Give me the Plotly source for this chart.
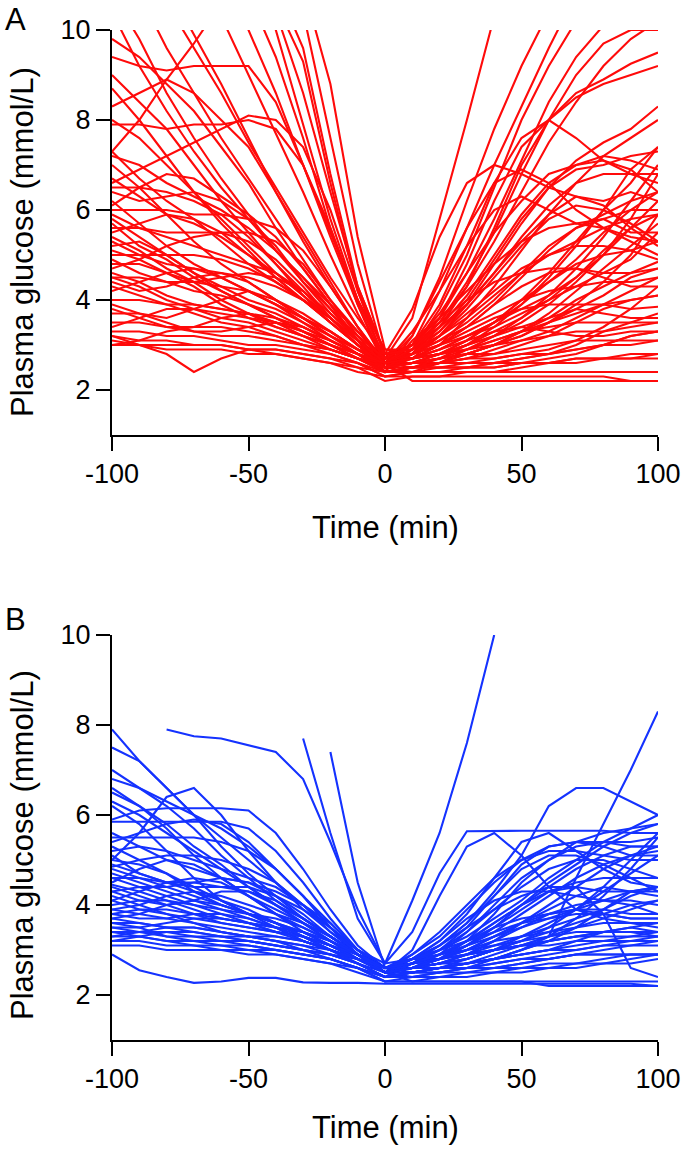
import plotly.graph_objects as go

TIME = list(range(-100, 101, 10))
TICKS_X = [-100, -50, 0, 50, 100]
TICK_TEXT_X = ["-100", "-50", "0", "50", "100"]
TICKS_Y = [2, 4, 6, 8, 10]
RED = "#ff0a0a"
BLUE = "#1432ff"

# Panel A: values at t = -100 ... 0 (11 samples)
A_PRE = [
    [10.4, 9.2, 8.2, 7.3, 6.5, 5.8, 5.1, 4.5, 3.9, 3.3, 2.7],
    [12.0, 10.8, 9.6, 8.6, 7.6, 6.7, 5.8, 4.9, 4.0, 3.3, 2.6],
    [13.5, 12.3, 11.0, 9.9, 8.8, 7.6, 6.4, 5.3, 4.3, 3.4, 2.5],
    [7.3, 8.0, 8.9, 9.7, 10.6, 11.0, 10.4, 8.6, 6.4, 4.3, 2.8],
    [14, 13, 12, 11, 10.3, 9.0, 7.7, 6.4, 5.0, 3.7, 2.6],
    [15, 14, 13, 12, 11, 10.0, 8.6, 7.0, 5.5, 4.0, 2.9],
    [16, 15, 14, 13, 12, 10.8, 9.4, 7.6, 5.6, 3.9, 2.5],
    [16, 15, 14, 13, 12, 11.2, 10.0, 7.9, 5.8, 4.0, 2.7],
    [17, 16, 15, 14, 13, 12, 10.6, 9.3, 6.6, 4.2, 2.6],
    [17, 16, 15, 14, 13, 12, 11, 9.6, 6.8, 4.3, 2.8],
    [18, 17, 16, 15, 14, 13, 12, 10.4, 7.6, 4.8, 2.7],
    [18, 17, 16, 15, 14, 13, 12, 11, 8.8, 5.4, 2.9],
    [9.8, 9.4, 8.8, 8.2, 7.4, 6.6, 5.6, 4.7, 3.9, 3.1, 2.4],
    [9.4, 9.2, 9.1, 9.2, 9.2, 9.2, 8.4, 7.0, 5.4, 3.9, 2.6],
    [8.7, 8.0, 7.2, 6.4, 5.7, 5.1, 4.5, 4.0, 3.5, 3.0, 2.5],
    [8.3, 8.6, 8.9, 8.6, 8.0, 7.4, 6.4, 5.4, 4.4, 3.4, 2.6],
    [7.9, 7.9, 7.8, 7.9, 7.9, 8.0, 7.8, 7.0, 5.6, 4.0, 2.7],
    [6.6, 6.9, 7.2, 7.5, 7.8, 8.1, 8.0, 7.4, 6.0, 4.2, 2.8],
    [7.3, 6.7, 6.2, 5.8, 5.3, 4.8, 4.4, 4.0, 3.6, 3.1, 2.5],
    [7.2, 7.0, 6.6, 6.3, 6.0, 5.6, 5.1, 4.5, 3.8, 3.1, 2.4],
    [6.7, 6.3, 5.9, 5.7, 5.4, 5.0, 4.6, 4.1, 3.6, 3.1, 2.6],
    [6.4, 6.2, 6.3, 6.4, 6.2, 5.8, 5.2, 4.4, 3.7, 3.1, 2.7],
    [6.2, 5.7, 5.2, 4.8, 4.5, 4.2, 3.9, 3.6, 3.3, 2.9, 2.5],
    [6.0, 6.0, 6.0, 5.9, 5.9, 5.8, 5.6, 5.1, 4.3, 3.4, 2.6],
    [5.9, 5.6, 5.5, 5.5, 5.5, 5.5, 5.3, 4.8, 4.0, 3.2, 2.5],
    [5.8, 5.4, 5.0, 4.6, 4.3, 4.0, 3.8, 3.5, 3.2, 2.9, 2.6],
    [5.6, 5.6, 5.4, 5.2, 5.0, 4.8, 4.6, 4.2, 3.7, 3.2, 2.7],
    [5.5, 5.7, 5.9, 5.8, 5.5, 5.0, 4.5, 4.0, 3.5, 3.0, 2.5],
    [5.3, 5.0, 4.8, 4.7, 4.6, 4.5, 4.3, 4.0, 3.6, 3.1, 2.6],
    [5.2, 5.3, 5.0, 4.6, 4.2, 3.9, 3.6, 3.3, 3.0, 2.7, 2.4],
    [5.0, 5.0, 5.0, 5.0, 4.9, 4.7, 4.4, 4.0, 3.5, 3.0, 2.5],
    [4.9, 4.6, 4.4, 4.2, 4.1, 3.9, 3.7, 3.4, 3.1, 2.8, 2.5],
    [4.7, 4.9, 5.2, 5.4, 5.5, 5.3, 4.9, 4.3, 3.6, 3.0, 2.6],
    [4.6, 4.4, 4.1, 3.9, 3.8, 3.7, 3.5, 3.3, 3.1, 2.8, 2.4],
    [4.5, 4.5, 4.4, 4.4, 4.3, 4.2, 4.0, 3.7, 3.3, 2.9, 2.6],
    [4.4, 4.2, 4.3, 4.5, 4.6, 4.4, 4.0, 3.6, 3.2, 2.9, 2.7],
    [4.3, 4.1, 3.9, 3.7, 3.5, 3.4, 3.2, 3.0, 2.9, 2.7, 2.5],
    [4.0, 4.0, 3.9, 3.9, 3.8, 3.7, 3.6, 3.4, 3.1, 2.8, 2.5],
    [3.9, 3.7, 3.6, 3.8, 4.0, 4.2, 3.9, 3.5, 3.1, 2.8, 2.6],
    [3.7, 3.7, 3.5, 3.3, 3.2, 3.2, 3.1, 3.0, 2.9, 2.7, 2.4],
    [3.5, 3.5, 3.4, 3.4, 3.4, 3.3, 3.2, 3.0, 2.8, 2.6, 2.3],
    [3.2, 3.0, 2.8, 2.4, 2.7, 2.9, 2.9, 2.8, 2.7, 2.6, 2.4],
    [3.3, 3.3, 3.2, 3.2, 3.1, 3.0, 3.0, 2.9, 2.8, 2.6, 2.3],
    [3.2, 3.1, 3.1, 3.0, 3.0, 2.9, 2.9, 2.8, 2.7, 2.5, 2.2],
    [3.0, 3.0, 3.0, 3.0, 3.0, 2.9, 2.8, 2.7, 2.6, 2.4, 2.3],
    [3.0, 3.1, 3.3, 3.4, 3.6, 3.7, 3.5, 3.2, 2.9, 2.7, 2.5],
    [8.0, 7.6, 7.0, 6.4, 5.8, 5.2, 4.6, 4.1, 3.6, 3.1, 2.6],
    [6.1, 6.5, 6.8, 6.7, 6.3, 5.9, 5.4, 4.7, 3.9, 3.1, 2.4],
    [5.1, 4.9, 4.6, 4.3, 3.9, 3.6, 3.4, 3.2, 3.0, 2.8, 2.6],
    [4.8, 4.8, 4.6, 4.4, 4.5, 4.6, 4.5, 4.2, 3.6, 3.0, 2.5],
    [4.2, 4.4, 4.6, 4.7, 4.5, 4.2, 3.9, 3.6, 3.2, 2.8, 2.4],
    [3.8, 3.6, 3.4, 3.3, 3.3, 3.4, 3.5, 3.4, 3.1, 2.8, 2.5],
    [7.0, 6.5, 5.9, 5.3, 4.8, 4.4, 4.0, 3.6, 3.3, 2.9, 2.6],
    [9.0, 8.4, 7.8, 7.0, 6.2, 5.5, 4.8, 4.2, 3.6, 3.1, 2.6],
    [5.7, 5.2, 4.9, 4.5, 4.2, 3.9, 3.6, 3.3, 3.0, 2.7, 2.4],
    [6.5, 6.5, 6.4, 6.2, 5.9, 5.4, 4.8, 4.1, 3.5, 3.0, 2.5],
    [4.5, 4.3, 4.0, 3.8, 3.6, 3.5, 3.3, 3.1, 2.9, 2.7, 2.6],
    [3.4, 3.6, 3.8, 3.8, 3.7, 3.6, 3.5, 3.3, 3.0, 2.8, 2.6],
    [3.1, 3.0, 2.9, 2.9, 2.9, 2.8, 2.8, 2.7, 2.6, 2.5, 2.4],
    [10.8, 9.8, 8.6, 7.6, 6.7, 5.9, 5.1, 4.4, 3.8, 3.2, 2.7],
    [12.5, 11.6, 10.6, 9.6, 8.6, 7.5, 6.5, 5.5, 4.5, 3.6, 2.8],
    [5.4, 5.1, 4.7, 4.4, 4.0, 3.7, 3.4, 3.2, 3.0, 2.7, 2.5],
]

# Panel A: values at t = 10 ... 100 (10 samples)
A_POST = [
    [3.6, 5.8, 8.0, 10.3, 12.5, 14, 15, 16, 17, 18],
    [3.2, 4.5, 6.2, 7.8, 9.2, 10.4, 11.5, 12.5, 13, 13.5],
    [2.9, 3.8, 5.0, 6.5, 8.0, 9.2, 10.2, 11, 12, 12.5],
    [3.0, 3.6, 4.6, 5.8, 7.1, 8.4, 9.4, 10.1, 11, 11.5],
    [2.9, 3.5, 4.4, 5.5, 6.8, 8.0, 9.0, 9.7, 10.0, 10.0],
    [2.8, 3.4, 4.3, 5.6, 7.0, 8.0, 8.6, 8.9, 9.25, 9.5],
    [2.8, 3.6, 4.8, 6.2, 7.4, 8.0, 8.5, 8.8, 9.0, 9.2],
    [2.7, 3.2, 3.9, 4.8, 5.7, 6.5, 7.1, 7.5, 7.8, 8.3],
    [2.7, 3.0, 3.6, 4.3, 5.1, 5.9, 6.6, 7.2, 7.6, 8.0],
    [3.8, 5.4, 6.6, 7.0, 6.8, 6.5, 6.3, 6.2, 6.4, 6.2],
    [3.0, 3.7, 4.6, 5.5, 6.2, 6.8, 7.0, 7.2, 7.1, 6.9],
    [2.9, 3.3, 3.9, 4.6, 5.4, 6.1, 6.6, 6.8, 6.8, 6.8],
    [3.2, 4.4, 5.6, 6.6, 6.9, 6.6, 6.0, 5.6, 5.3, 5.0],
    [2.6, 2.8, 3.1, 3.5, 4.0, 4.6, 5.3, 6.0, 6.6, 7.4],
    [2.4, 2.4, 2.4, 2.4, 2.4, 2.4, 2.4, 2.4, 2.4, 2.4],
    [2.2, 2.2, 2.2, 2.2, 2.2, 2.2, 2.2, 2.2, 2.2, 2.2],
    [2.8, 3.0, 3.2, 3.4, 3.7, 4.0, 4.3, 4.6, 4.9, 5.5],
    [2.7, 2.8, 2.9, 3.0, 3.1, 3.2, 3.3, 3.3, 3.4, 3.5],
    [2.6, 2.7, 2.8, 2.8, 2.9, 3.0, 3.1, 3.1, 3.1, 3.1],
    [3.1, 3.6, 4.2, 4.8, 5.3, 5.6, 5.7, 5.6, 5.4, 5.3],
    [2.9, 3.2, 3.6, 4.1, 4.6, 5.0, 5.3, 5.6, 5.8, 5.9],
    [2.7, 2.9, 3.2, 3.5, 3.9, 4.4, 4.9, 5.5, 6.0, 6.4],
    [2.6, 2.7, 2.8, 3.0, 3.3, 3.6, 4.0, 4.3, 4.6, 4.85],
    [3.0, 3.5, 4.0, 4.4, 4.6, 4.7, 4.7, 4.6, 4.6, 4.7],
    [2.8, 3.1, 3.4, 3.7, 4.0, 4.2, 4.3, 4.4, 4.4, 4.5],
    [2.5, 2.6, 2.7, 2.7, 2.8, 2.9, 3.1, 3.4, 3.8, 4.3],
    [3.0, 3.4, 3.9, 4.6, 5.3, 5.9, 6.3, 6.1, 5.6, 5.2],
    [2.6, 2.6, 2.7, 2.8, 3.0, 3.2, 3.5, 3.8, 4.0, 4.1],
    [2.8, 3.0, 3.3, 3.6, 3.8, 3.9, 3.9, 3.9, 3.8, 3.85],
    [2.5, 2.5, 2.6, 2.6, 2.7, 2.8, 3.0, 3.3, 3.5, 3.7],
    [2.7, 2.9, 3.2, 3.5, 3.8, 4.1, 4.5, 5.0, 5.6, 6.2],
    [2.6, 2.7, 2.9, 3.1, 3.3, 3.4, 3.5, 3.5, 3.5, 3.5],
    [3.3, 4.2, 5.2, 6.0, 6.3, 6.0, 5.7, 5.8, 6.0, 6.0],
    [2.4, 2.4, 2.5, 2.5, 2.6, 2.7, 2.8, 3.0, 3.2, 3.3],
    [2.7, 2.8, 3.0, 3.2, 3.5, 3.9, 4.4, 5.0, 5.8, 6.8],
    [2.8, 3.1, 3.5, 4.0, 4.6, 5.2, 5.6, 5.8, 5.5, 5.5],
    [2.5, 2.5, 2.5, 2.5, 2.6, 2.6, 2.7, 2.7, 2.8, 2.8],
    [2.6, 2.8, 3.0, 3.3, 3.6, 4.0, 4.5, 5.1, 5.6, 5.9],
    [2.7, 3.0, 3.4, 3.9, 4.5, 5.1, 5.6, 5.9, 6.2, 6.4],
    [2.5, 2.6, 2.6, 2.7, 2.8, 2.8, 2.9, 3.0, 3.0, 3.1],
    [2.3, 2.3, 2.4, 2.4, 2.5, 2.6, 2.6, 2.7, 2.7, 2.8],
    [2.5, 2.6, 2.8, 3.0, 3.3, 3.7, 4.2, 4.7, 5.2, 5.7],
    [2.4, 2.5, 2.5, 2.6, 2.7, 2.8, 2.9, 3.0, 3.2, 3.3],
    [2.3, 2.3, 2.3, 2.3, 2.3, 2.3, 2.3, 2.3, 2.2, 2.2],
    [2.4, 2.6, 2.9, 3.2, 3.6, 4.1, 4.7, 5.4, 6.2, 7.0],
    [2.8, 3.2, 3.7, 4.2, 4.7, 5.0, 5.2, 5.2, 5.1, 4.9],
    [2.8, 3.2, 3.8, 4.5, 5.2, 5.8, 6.1, 6.0, 5.7, 5.3],
    [2.5, 2.7, 3.0, 3.4, 3.9, 4.5, 5.2, 6.0, 6.9, 7.4],
    [2.7, 2.8, 2.9, 3.1, 3.3, 3.5, 3.7, 3.9, 4.0, 4.1],
    [2.6, 2.8, 3.1, 3.5, 4.0, 4.4, 4.8, 5.0, 5.1, 5.3],
    [2.5, 2.6, 2.8, 3.0, 3.2, 3.5, 3.8, 4.1, 4.5, 4.7],
    [2.7, 3.0, 3.4, 3.9, 4.3, 4.6, 4.7, 4.5, 4.3, 4.3],
    [2.9, 3.4, 4.1, 5.0, 5.9, 6.6, 7.0, 7.1, 6.9, 6.4],
    [3.0, 3.9, 5.2, 6.6, 7.6, 8.0, 7.6, 7.1, 6.8, 6.6],
    [2.5, 2.6, 2.7, 2.9, 3.1, 3.3, 3.6, 3.9, 4.2, 4.5],
    [2.8, 3.3, 4.0, 4.9, 5.8, 6.5, 6.9, 7.0, 7.2, 7.3],
    [2.7, 2.8, 3.0, 3.2, 3.4, 3.6, 3.8, 3.7, 3.6, 3.6],
    [2.7, 2.9, 3.1, 3.3, 3.4, 3.3, 3.2, 3.2, 3.3, 3.3],
    [2.5, 2.5, 2.5, 2.6, 2.6, 2.6, 2.7, 2.7, 2.7, 2.7],
    [3.0, 4.2, 5.6, 7.0, 8.3, 9.6, 10.8, 12, 13, 14],
    [2.9, 3.5, 4.3, 5.3, 6.4, 7.5, 8.4, 9.2, 9.8, 10.2],
    [2.6, 2.7, 2.8, 3.0, 3.2, 3.5, 3.9, 4.4, 5.0, 5.9],
]

N = None
# Panel B: values at t = -100 ... 0 (11 samples)
B_PRE = [
    [N, N, N, N, N, N, N, 7.7, 5.6, 3.7, 2.7],
    [7.9, 7.2, 6.6, 6.0, 5.3, 4.7, 4.2, 3.7, 3.3, 2.9, 2.5],
    [7.5, 7.2, 6.6, 6.0, 5.5, 5.0, 4.5, 4.0, 3.5, 3.0, 2.6],
    [N, N, 7.9, 7.75, 7.7, 7.55, 7.4, 6.8, 5.4, 3.9, 2.7],
    [N, N, N, N, N, N, N, N, 7.4, 4.5, 2.6],
    [7.0, 6.6, 6.3, 6.0, 5.7, 5.3, 4.8, 4.2, 3.6, 3.0, 2.5],
    [6.8, 6.6, 6.2, 5.7, 5.1, 4.6, 4.1, 3.7, 3.3, 2.9, 2.5],
    [6.5, 6.2, 5.8, 5.3, 4.9, 4.4, 4.0, 3.6, 3.2, 2.9, 2.5],
    [5.9, 6.1, 6.15, 6.15, 6.15, 6.1, 5.6, 4.8, 3.9, 3.1, 2.6],
    [5.0, 5.6, 6.4, 6.6, 6.0, 5.2, 4.5, 3.9, 3.4, 3.0, 2.6],
    [6.3, 6.0, 5.6, 5.2, 4.8, 4.4, 4.0, 3.6, 3.2, 2.8, 2.5],
    [6.2, 5.8, 5.2, 4.6, 4.1, 3.8, 3.5, 3.2, 3.0, 2.8, 2.5],
    [5.85, 5.85, 5.85, 5.85, 5.85, 5.7, 5.2, 4.5, 3.7, 3.0, 2.6],
    [5.4, 5.6, 5.8, 5.9, 5.8, 5.4, 4.8, 4.2, 3.5, 2.9, 2.5],
    [5.3, 5.0, 4.7, 4.3, 4.0, 3.8, 3.6, 3.4, 3.1, 2.8, 2.5],
    [5.2, 5.3, 5.2, 5.0, 4.8, 4.6, 4.4, 4.0, 3.5, 3.0, 2.6],
    [5.0, 4.9, 4.7, 4.4, 4.1, 3.8, 3.6, 3.3, 3.0, 2.8, 2.5],
    [4.85, 5.0, 5.1, 5.1, 5.0, 4.8, 4.5, 4.0, 3.4, 2.9, 2.5],
    [4.7, 4.5, 4.3, 4.1, 3.9, 3.7, 3.5, 3.2, 3.0, 2.8, 2.6],
    [4.6, 4.4, 4.4, 4.5, 4.6, 4.5, 4.2, 3.8, 3.3, 2.9, 2.5],
    [4.45, 4.3, 4.1, 3.9, 3.7, 3.6, 3.4, 3.2, 3.0, 2.8, 2.6],
    [4.3, 4.4, 4.2, 4.0, 3.8, 3.6, 3.4, 3.3, 3.1, 2.8, 2.5],
    [4.2, 4.0, 3.8, 3.6, 3.4, 3.3, 3.2, 3.1, 2.9, 2.7, 2.4],
    [4.0, 4.1, 4.1, 4.0, 3.9, 3.8, 3.7, 3.5, 3.2, 2.9, 2.6],
    [3.9, 3.8, 3.7, 3.6, 3.5, 3.4, 3.3, 3.2, 3.0, 2.7, 2.4],
    [3.8, 3.7, 3.7, 3.8, 3.8, 3.7, 3.5, 3.3, 3.1, 2.9, 2.6],
    [3.7, 3.6, 3.5, 3.4, 3.3, 3.3, 3.2, 3.1, 3.0, 2.8, 2.5],
    [3.6, 3.6, 3.5, 3.5, 3.4, 3.3, 3.2, 3.0, 2.9, 2.7, 2.4],
    [3.5, 3.4, 3.4, 3.3, 3.3, 3.2, 3.1, 3.0, 2.9, 2.7, 2.5],
    [3.4, 3.4, 3.3, 3.3, 3.2, 3.2, 3.1, 3.0, 2.8, 2.6, 2.4],
    [3.3, 3.3, 3.2, 3.2, 3.2, 3.1, 3.0, 2.9, 2.8, 2.6, 2.3],
    [3.2, 3.2, 3.1, 3.1, 3.0, 3.0, 2.9, 2.8, 2.7, 2.6, 2.4],
    [3.1, 3.1, 3.0, 3.0, 3.0, 2.9, 2.9, 2.8, 2.7, 2.5, 2.3],
    [2.9, 2.55, 2.4, 2.27, 2.3, 2.38, 2.38, 2.28, 2.27, 2.27, 2.25],
    [4.3, 4.1, 4.0, 4.1, 4.3, 4.3, 4.1, 3.7, 3.3, 2.9, 2.6],
    [4.5, 4.8, 5.0, 4.9, 4.6, 4.2, 3.8, 3.4, 3.1, 2.8, 2.5],
    [5.6, 5.3, 5.0, 4.8, 4.6, 4.5, 4.3, 4.0, 3.6, 3.0, 2.5],
    [4.6, 4.6, 4.5, 4.5, 4.4, 4.4, 4.2, 3.9, 3.5, 3.0, 2.7],
    [3.9, 4.0, 4.2, 4.3, 4.2, 4.0, 3.8, 3.6, 3.3, 2.9, 2.6],
    [3.5, 3.5, 3.6, 3.7, 3.7, 3.6, 3.5, 3.4, 3.2, 2.9, 2.6],
    [3.3, 3.4, 3.5, 3.5, 3.4, 3.3, 3.3, 3.2, 3.0, 2.8, 2.6],
    [4.1, 3.9, 3.8, 3.7, 3.6, 3.5, 3.4, 3.3, 3.1, 2.8, 2.5],
    [6.6, 6.2, 5.7, 5.1, 4.6, 4.2, 3.9, 3.6, 3.3, 2.9, 2.5],
    [5.1, 4.7, 4.5, 4.4, 4.4, 4.3, 4.0, 3.7, 3.3, 2.9, 2.5],
    [4.4, 4.2, 4.0, 3.8, 3.7, 3.6, 3.5, 3.4, 3.2, 2.9, 2.6],
    [3.2, 3.3, 3.4, 3.4, 3.3, 3.2, 3.1, 3.0, 2.9, 2.8, 2.5],
    [3.6, 3.5, 3.3, 3.2, 3.1, 3.1, 3.0, 2.9, 2.8, 2.6, 2.3],
    [4.8, 4.6, 4.4, 4.2, 4.0, 3.8, 3.6, 3.4, 3.1, 2.8, 2.5],
    [3.8, 3.9, 3.9, 3.8, 3.6, 3.5, 3.4, 3.3, 3.1, 2.9, 2.6],
    [5.5, 5.5, 5.5, 5.5, 5.4, 5.2, 4.8, 4.2, 3.5, 2.9, 2.5],
    [4.1, 4.3, 4.5, 4.6, 4.5, 4.2, 3.8, 3.5, 3.2, 2.9, 2.6],
    [3.4, 3.3, 3.2, 3.1, 3.1, 3.0, 3.0, 2.9, 2.8, 2.6, 2.4],
    [4.9, 4.7, 4.5, 4.3, 4.1, 3.9, 3.6, 3.3, 3.0, 2.8, 2.6],
    [3.7, 3.8, 4.0, 4.1, 4.0, 3.8, 3.6, 3.3, 3.0, 2.7, 2.4],
]

# Panel B: values at t = 10 ... 100 (10 samples)
B_POST = [
    [4.1, 5.6, 7.6, 10.0, N, N, N, N, N, N],
    [2.8, 2.8, 2.9, 3.0, 3.1, 3.3, 4.6, 5.8, 7.0, 8.3],
    [2.8, 3.1, 3.6, 4.3, 5.1, 6.2, 6.6, 6.6, 6.3, 6.0],
    [3.4, 4.7, 5.64, 5.65, 5.65, 5.65, 5.65, 5.65, 5.6, 5.6],
    [2.8, 3.2, 3.8, 4.6, 5.4, 5.6, 5.2, 4.8, 4.5, 4.4],
    [3.0, 4.2, 5.3, 5.6, 5.1, 4.4, 3.9, 3.7, 3.6, 3.5],
    [2.6, 2.8, 3.1, 3.5, 3.9, 4.3, 4.4, 3.8, 2.6, 2.4],
    [2.7, 3.0, 3.5, 4.2, 4.9, 5.3, 5.4, 5.4, 5.4, 5.5],
    [2.6, 2.7, 2.9, 3.2, 3.6, 4.0, 4.4, 4.8, 5.1, 5.3],
    [2.5, 2.6, 2.7, 2.8, 2.9, 3.0, 3.1, 3.2, 3.3, 3.4],
    [2.3, 2.3, 2.3, 2.3, 2.3, 2.2, 2.2, 2.2, 2.2, 2.2],
    [2.7, 2.9, 3.2, 3.6, 4.0, 4.3, 4.5, 4.6, 4.6, 4.6],
    [2.8, 3.1, 3.5, 3.9, 4.2, 4.4, 4.4, 4.3, 4.3, 4.3],
    [2.6, 2.7, 2.8, 3.0, 3.2, 3.4, 3.6, 3.8, 4.0, 4.1],
    [2.5, 2.6, 2.6, 2.7, 2.8, 2.8, 2.9, 2.9, 2.9, 2.9],
    [2.7, 2.8, 3.0, 3.2, 3.3, 3.4, 3.5, 3.6, 3.6, 3.6],
    [2.9, 3.4, 4.0, 4.6, 5.0, 5.2, 5.2, 5.1, 5.0, 5.0],
    [2.6, 2.8, 3.1, 3.5, 4.0, 4.5, 4.9, 5.3, 5.6, 5.8],
    [2.5, 2.5, 2.6, 2.6, 2.7, 2.8, 2.9, 3.0, 3.1, 3.2],
    [2.8, 3.2, 3.7, 4.1, 4.3, 4.3, 4.2, 4.1, 4.0, 3.8],
    [2.6, 2.7, 2.9, 3.1, 3.3, 3.5, 3.7, 3.9, 4.2, 4.4],
    [2.4, 2.5, 2.5, 2.6, 2.6, 2.7, 2.7, 2.8, 2.9, 2.9],
    [2.7, 2.9, 3.2, 3.5, 3.7, 3.8, 3.9, 3.9, 3.8, 3.8],
    [2.9, 3.3, 3.9, 4.5, 5.0, 5.3, 5.4, 5.3, 5.1, 5.1],
    [2.5, 2.6, 2.7, 2.9, 3.1, 3.3, 3.5, 3.7, 3.9, 4.1],
    [2.7, 2.8, 2.9, 3.0, 3.1, 3.2, 3.3, 3.3, 3.3, 3.3],
    [2.6, 2.6, 2.7, 2.8, 2.9, 3.0, 3.2, 3.4, 3.5, 3.6],
    [2.4, 2.4, 2.5, 2.5, 2.6, 2.6, 2.7, 2.7, 2.8, 2.9],
    [2.7, 3.0, 3.4, 3.9, 4.4, 4.8, 5.0, 5.0, 4.8, 4.6],
    [2.5, 2.6, 2.8, 3.0, 3.3, 3.6, 3.9, 4.3, 4.7, 5.1],
    [2.3, 2.3, 2.3, 2.3, 2.3, 2.3, 2.3, 2.3, 2.3, 2.3],
    [2.5, 2.6, 2.6, 2.7, 2.8, 2.9, 3.0, 3.1, 3.2, 3.3],
    [2.4, 2.5, 2.6, 2.8, 3.0, 3.2, 3.5, 3.9, 4.3, 4.4],
    [2.25, 2.25, 2.25, 2.25, 2.25, 2.25, 2.25, 2.25, 2.25, 2.2],
    [2.8, 3.0, 3.3, 3.7, 4.1, 4.6, 5.0, 5.4, 5.7, 6.0],
    [2.6, 2.8, 3.0, 3.3, 3.6, 3.9, 4.2, 4.4, 4.3, 4.2],
    [2.7, 3.1, 3.6, 4.2, 4.8, 5.1, 5.1, 4.9, 4.6, 4.3],
    [2.8, 2.9, 3.0, 3.1, 3.2, 3.3, 3.4, 3.4, 3.4, 3.4],
    [2.6, 2.7, 2.8, 3.0, 3.2, 3.5, 3.9, 4.4, 5.0, 5.6],
    [2.7, 2.8, 2.9, 3.0, 3.1, 3.1, 3.2, 3.2, 3.2, 3.2],
    [2.6, 2.7, 2.9, 3.2, 3.5, 3.8, 3.9, 3.8, 3.7, 3.7],
    [2.5, 2.6, 2.7, 2.8, 3.0, 3.3, 3.7, 4.2, 4.8, 5.5],
    [2.6, 2.9, 3.4, 4.0, 4.6, 5.0, 5.3, 5.4, 5.3, 5.3],
    [2.6, 2.7, 2.7, 2.8, 2.9, 3.0, 3.0, 3.1, 3.1, 3.1],
    [2.7, 2.8, 3.0, 3.3, 3.6, 3.8, 4.0, 4.1, 4.1, 4.0],
    [2.6, 2.7, 2.8, 3.0, 3.1, 3.2, 3.3, 3.4, 3.5, 3.4],
    [2.3, 2.4, 2.4, 2.5, 2.5, 2.6, 2.6, 2.7, 2.7, 2.8],
    [2.6, 2.8, 3.1, 3.4, 3.8, 4.2, 4.6, 4.9, 5.1, 5.2],
    [2.8, 3.0, 3.2, 3.4, 3.6, 3.7, 3.8, 3.8, 3.7, 3.7],
    [2.6, 2.8, 3.2, 3.8, 4.5, 5.0, 5.4, 5.6, 5.7, 5.8],
    [2.7, 2.9, 3.1, 3.3, 3.5, 3.7, 3.9, 4.1, 4.3, 4.4],
    [2.5, 2.5, 2.6, 2.6, 2.7, 2.8, 2.9, 2.9, 2.9, 2.9],
    [2.7, 2.9, 3.2, 3.6, 4.0, 4.4, 4.8, 5.1, 5.3, 5.3],
    [2.5, 2.6, 2.7, 2.8, 3.0, 3.2, 3.3, 3.4, 3.4, 3.3],
]

W, H = 685, 1155
FONT = "Liberation Sans, Arial, Helvetica, sans-serif"

fig = go.Figure()

for pre, post in zip(A_PRE, A_POST):
    fig.add_trace(go.Scatter(x=TIME, y=pre + post, mode="lines",
                             line=dict(color=RED, width=2.1),
                             xaxis="x", yaxis="y", showlegend=False,
                             hoverinfo="skip"))
for pre, post in zip(B_PRE, B_POST):
    fig.add_trace(go.Scatter(x=TIME, y=pre + post, mode="lines",
                             line=dict(color=BLUE, width=2.1),
                             xaxis="x2", yaxis="y2", showlegend=False,
                             hoverinfo="skip", connectgaps=False))

def px_x(p):
    return p / W

def px_y(p):
    return 1 - p / H

axis_common = dict(showline=True, linecolor="black", linewidth=2,
                   ticks="outside", ticklen=14, tickwidth=2, tickcolor="black",
                   showgrid=False, zeroline=False, automargin=False,
                   tickfont=dict(family=FONT, size=27, color="black"))

xdom = [px_x(112), px_x(658)]
fig.update_layout(
    template="none",
    width=W, height=H,
    margin=dict(l=0, r=0, t=0, b=0, autoexpand=False),
    paper_bgcolor="white", plot_bgcolor="white",
    xaxis=dict(domain=xdom, range=[-100, 100], tickvals=TICKS_X,
               ticktext=TICK_TEXT_X, anchor="y", **axis_common),
    yaxis=dict(domain=[px_y(435), px_y(30)], range=[1, 10], tickvals=TICKS_Y,
               anchor="x", **axis_common),
    xaxis2=dict(domain=xdom, range=[-100, 100], tickvals=TICKS_X,
                ticktext=TICK_TEXT_X, anchor="y2", **axis_common),
    yaxis2=dict(domain=[px_y(1040), px_y(635)], range=[1, 10], tickvals=TICKS_Y,
                anchor="x2", **axis_common),
)

ann_font = dict(family=FONT, size=31, color="black")
annotations = [
    dict(text="A", x=px_x(16), y=px_y(19), xref="paper", yref="paper",
         showarrow=False, xanchor="center", yanchor="middle",
         font=dict(family=FONT, size=31, color="black")),
    dict(text="B", x=px_x(16), y=px_y(619), xref="paper", yref="paper",
         showarrow=False, xanchor="center", yanchor="middle",
         font=dict(family=FONT, size=31, color="black")),
    dict(text="Plasma glucose (mmol/L)", x=px_x(22), y=px_y(242),
         xref="paper", yref="paper", showarrow=False, textangle=-90,
         xanchor="center", yanchor="middle", font=ann_font),
    dict(text="Plasma glucose (mmol/L)", x=px_x(22), y=px_y(845),
         xref="paper", yref="paper", showarrow=False, textangle=-90,
         xanchor="center", yanchor="middle", font=ann_font),
    dict(text="Time (min)", x=px_x(385), y=px_y(527), xref="paper",
         yref="paper", showarrow=False, xanchor="center", yanchor="middle",
         font=ann_font),
    dict(text="Time (min)", x=px_x(385), y=px_y(1127), xref="paper",
         yref="paper", showarrow=False, xanchor="center", yanchor="middle",
         font=ann_font),
]
fig.update_layout(annotations=annotations)

# remove the page's default body margin so the figure sits at the window origin
fig.write_html(
    "out.html",
    config={"displayModeBar": False},
    post_script=("document.body.style.margin='0px';"
                 "document.documentElement.style.overflow='hidden';"),
)
